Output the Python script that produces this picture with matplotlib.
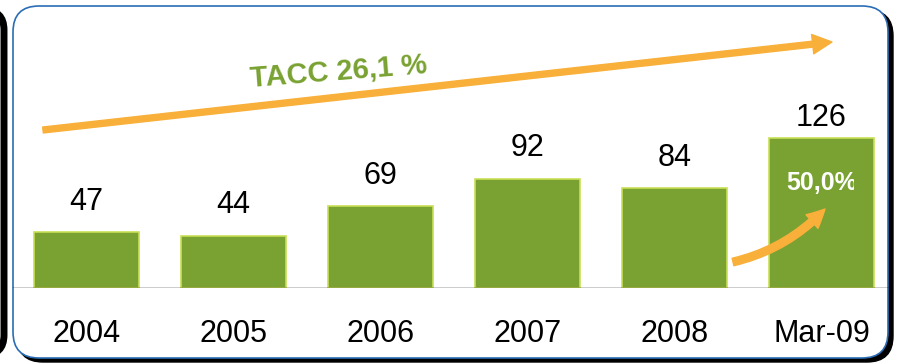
import matplotlib
matplotlib.use('Agg')
import matplotlib.pyplot as plt
from matplotlib.patches import FancyBboxPatch
from matplotlib.transforms import Bbox

plt.rcParams['font.family'] = ['Liberation Sans', 'DejaVu Sans']

periods = ["2004", "2005", "2006", "2007", "2008", "Mar-09"]
values = [47, 44, 69, 92, 84, 126]
label_gap = [11, 11, 11, 11, 11, 4]   # pts between bar top and its label
cagr_text = "TACC 26,1 %"
last_growth = "50,0%"

green = "#79A232"
bar_edge = "#C9DF55"
orange = "#F9B03A"
blue = "#2A6DB5"

W, H = 898, 363
fig = plt.figure(figsize=(W / 100, H / 100), dpi=100)

# frame: black drop shadow, white rounded panel with thin blue border
shadow = FancyBboxPatch((17, 1), 876, 352, boxstyle="round,pad=0,rounding_size=26",
                        transform=None, facecolor="black", edgecolor="black", zorder=-3)
panel = FancyBboxPatch((13, 5), 875, 352, boxstyle="round,pad=0,rounding_size=26",
                       transform=None, facecolor="white", edgecolor=blue, lw=1.2, zorder=-2)
# edge of the neighbouring panel on the left
left_panel = FancyBboxPatch((-80, 8), 84, 345, boxstyle="round,pad=0,rounding_size=20",
                            transform=None, facecolor="white", edgecolor="black", lw=5, zorder=-2)
for p in (shadow, panel, left_panel):
    fig.add_artist(p)

ax = fig.add_axes([0, 75 / H, 1, 1 - 75 / H])
ax.set_facecolor("none")
x = list(range(len(periods)))
bars = ax.bar(x, values, width=0.715, color=green, edgecolor=bar_edge, linewidth=1.2, zorder=2)
ax.set_xlim(-0.588, 5.52)
ax.set_ylim(0, 288 / 1.19)
for s in ax.spines.values():
    s.set_visible(False)
ax.axhline(0, xmin=13 / W, xmax=888 / W, color="black", lw=1, zorder=3)
ax.set_yticks([])
ax.set_xticks(x)
ax.set_xticklabels(periods, fontsize=22)
ax.tick_params(axis="x", length=0, pad=22)

for rect, v, g in zip(bars, values, label_gap):
    ax.annotate(str(v), (rect.get_x() + rect.get_width() / 2, v), xytext=(0, g),
                textcoords="offset points", ha="center", va="bottom", fontsize=22)

# overall growth arrow and its label
ax.annotate("", xy=(832, 321), xytext=(43, 233), xycoords="figure pixels",
            arrowprops=dict(arrowstyle="simple,head_length=14,head_width=14,tail_width=4.3",
                            mutation_scale=1, color=orange, shrinkA=0, shrinkB=0))
fig.text(338 / W, 1 - 72 / H, cagr_text, color=green, fontsize=21, fontweight="bold",
         rotation=4.5, ha="center", va="center", rotation_mode="anchor")

# growth of the last period
ax.annotate("", xy=(825, 154), xytext=(733, 101), xycoords="figure pixels",
            arrowprops=dict(arrowstyle="simple,head_length=13,head_width=13,tail_width=5.5",
                            mutation_scale=1, color=orange, shrinkA=0, shrinkB=0,
                            connectionstyle="arc3,rad=0.15"))
t = fig.text(786 / W, 1 - 183 / H, last_growth, color="white", fontsize=18,
             fontweight="bold", ha="left", va="center", rotation=0.01)
t.set_clip_box(Bbox.from_extents(700, 120, 854, 240))
t.set_clip_on(True)

fig.savefig("out.png", dpi=100)
